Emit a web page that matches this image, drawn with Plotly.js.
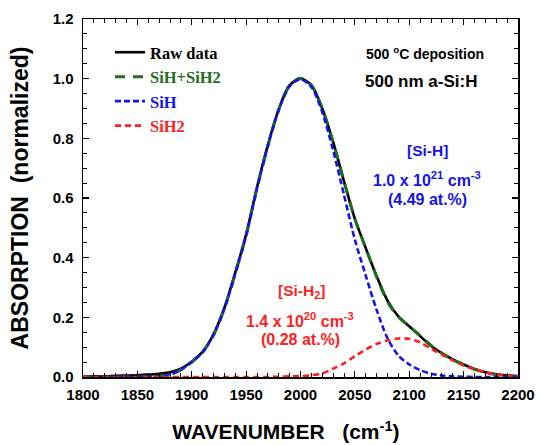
<!DOCTYPE html>
<html>
<head>
<meta charset="utf-8">
<script src="https://cdn.plot.ly/plotly-3.0.1.min.js"></script>
<style>html,body{margin:0;padding:0;background:#fff;}#chart{width:541px;height:445px;}</style>
</head>
<body>
<div id="chart"></div>
<script>
// Wavenumber grid (cm^-1)
var wavenumber = [1800,1810,1820,1830,1840,1850,1860,1870,1880,1890,
                  1900,1910,1920,1930,1940,1950,1960,1970,1980,1990,
                  2000,2010,2020,2030,2040,2050,2060,2070,2080,2090,
                  2100,2110,2120,2130,2140,2150,2160,2170,2180,2190,2200];

// Normalized absorption
var rawData = [0.001,0.002,0.002,0.004,0.005,0.006,0.008,0.011,0.016,0.028,
               0.052,0.085,0.143,0.232,0.350,0.478,0.636,0.778,0.898,0.978,
               1.000,0.978,0.900,0.788,0.656,0.530,0.432,0.338,0.256,0.203,
               0.170,0.137,0.104,0.080,0.059,0.042,0.027,0.016,0.009,0.005,0.003];

var fitSum = [0,0,0,0,0,0,0.001,0.003,0.009,0.024,
              0.050,0.083,0.141,0.229,0.346,0.474,0.632,0.775,0.896,0.977,
              1.001,0.978,0.900,0.788,0.656,0.530,0.432,0.336,0.252,0.201,
              0.170,0.139,0.106,0.080,0.058,0.040,0.026,0.015,0.008,0.004,0.002];

var siH = [0,0,0,0,0,0,0.001,0.003,0.009,0.024,
           0.050,0.083,0.141,0.229,0.346,0.474,0.632,0.775,0.895,0.975,
           0.998,0.972,0.888,0.760,0.610,0.460,0.340,0.225,0.130,0.072,
           0.042,0.023,0.011,0.005,0.002,0.001,0,0,0,0,0];

var siH2 = [0,0,0,0,0,0,0,0,0,0,
            0,0,0,0,0,0,0,0,0.001,0.002,
            0.003,0.006,0.012,0.028,0.046,0.070,0.092,0.111,0.122,0.129,
            0.128,0.116,0.095,0.075,0.056,0.039,0.026,0.015,0.008,0.004,0.002];

var seriesNames = ['Raw data','SiH+SiH2','SiH','SiH2'];
var xTickVals = [1800,1850,1900,1950,2000,2050,2100,2150,2200];
var yTickVals = [0,0.2,0.4,0.6,0.8,1.0,1.2];
var yTickText = ['0.0','0.2','0.4','0.6','0.8','1.0','1.2'];

var cBlack = '#000000', cGreen = '#1e6e1e', cBlue = '#1414e6', cRed = '#ff1e1e';

function span(txt, col){ return '<span style="color:' + col + '">' + txt + '</span>'; }

var traces = [
  {x: wavenumber, y: rawData, name: span(seriesNames[0], cBlack), legendgroup:'a', mode:'lines',
   line:{color:cBlack, width:2.6, shape:'spline', smoothing:0.8}},
  {x: wavenumber, y: fitSum, name: span(seriesNames[1], cGreen), legendgroup:'b', mode:'lines',
   line:{color:cGreen, width:3, dash:'10px,8px', shape:'spline', smoothing:0.8}},
  {x: wavenumber, y: siH, name: span(seriesNames[2], cBlue), legendgroup:'c', mode:'lines',
   line:{color:cBlue, width:2.6, dash:'6px,3px', shape:'spline', smoothing:0.8}},
  {x: wavenumber, y: siH2, name: span(seriesNames[3], cRed), legendgroup:'d', mode:'lines',
   line:{color:cRed, width:2.6, dash:'6px,4px', shape:'spline', smoothing:0.8}}
];

var fam = 'Liberation Sans, Arial, sans-serif';
function af(size, col){ return {family:fam, weight:'bold', size:size, color:col}; }
function px2x(p){ return (p-83)/435; }
function px2y(p){ return (377-p)/358; }
function note(xp, yp, txt, size, col){
  return {xref:'paper', yref:'paper', x:px2x(xp), y:px2y(yp), xanchor:'center', yanchor:'middle',
          text:txt, showarrow:false, font:af(size,col)};
}

var layout = {
  width: 541, height: 445,
  margin: {l:83, r:23, t:19, b:68, pad:0},
  paper_bgcolor:'#ffffff', plot_bgcolor:'#ffffff',
  showlegend: true,
  legend: {x:px2x(110), y:px2y(35), xanchor:'left', yanchor:'top', bgcolor:'rgba(0,0,0,0)',
           tracegroupgap: 0,
           font:{family:'Liberation Serif, Times New Roman, serif', size:16.5, weight:'bold', color:'#000'}},
  xaxis: {
    range:[1800,2200], tickvals:xTickVals, ticks:'inside', ticklen:6, tickwidth:1.2, tickcolor:'#000',
    minor:{dtick:10, ticks:'inside', ticklen:4, tickwidth:1, tickcolor:'#000'},
    showline:true, linecolor:'#000', linewidth:1.5, mirror:'ticks', showgrid:false, zeroline:false,
    tickfont: af(15,'#000'), ticklabelstandoff:3,
    title:{text:'WAVENUMBER   (cm<sup>-1</sup>)&nbsp;&nbsp;&nbsp;&nbsp;&nbsp;', font: af(21,'#000'), standoff:23}
  },
  yaxis: {
    range:[0,1.2], tickvals:yTickVals, ticktext:yTickText, ticks:'inside', ticklen:6, tickwidth:1.2, tickcolor:'#000',
    minor:{dtick:0.05, ticks:'inside', ticklen:4, tickwidth:1, tickcolor:'#000'},
    showline:true, linecolor:'#000', linewidth:1.5, mirror:'ticks', showgrid:false, zeroline:false,
    tickfont: af(15,'#000'), ticklabelstandoff:5,
    title:{text:'ABSORPTION  (normalized)', font: af(23,'#000'), standoff:17}
  },
  annotations: [
    note(425, 53, '500 <sup>o</sup>C deposition', 14, '#000'),
    note(421, 81, '500 nm a-Si:H', 17, '#000'),
    note(427, 150, '[Si-H]', 15.5, cBlue),
    note(427, 179, '1.0 x 10<sup>21</sup> cm<sup>-3</sup>', 16, cBlue),
    note(427, 199, '(4.49 at.%)', 16, cBlue),
    note(301, 291, '[Si-H<sub>2</sub>]', 15.5, cRed),
    note(300, 320, '1.4 x 10<sup>20</sup> cm<sup>-3</sup>', 16, cRed),
    note(300, 339, '(0.28 at.%)', 16, cRed)
  ]
};

Plotly.newPlot('chart', traces, layout, {displayModeBar:false, staticPlot:true});
</script>
</body>
</html>
